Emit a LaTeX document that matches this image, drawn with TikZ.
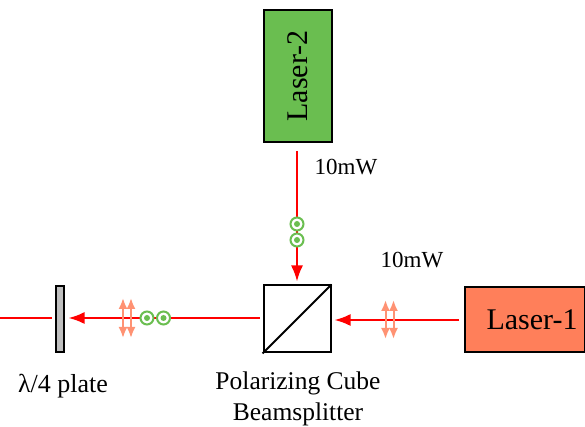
\documentclass[tikz,border=0pt]{standalone}
\usepackage{fontspec}
\setmainfont{Liberation Serif}
\usetikzlibrary{arrows.meta,positioning}
\definecolor{lasergreen}{RGB}{106,190,80}
\definecolor{lasersalmon}{RGB}{255,127,90}
\tikzset{
    laserbox/.style={draw,line width=2pt,minimum width=68pt,minimum height=132pt,inner sep=0pt},
    beam/.style={red,line width=2pt},
    beamtip/.style={beam,-{Latex[length=16pt,width=12pt]}},
    polarrow/.style={lasersalmon!85,line width=2pt,{Latex[length=11pt,width=9pt]}-{Latex[length=11pt,width=9pt]}},
    polring/.style={circle,draw=lasergreen,fill=white,line width=2pt,minimum size=13pt,inner sep=0pt},
    poldot/.style={circle,fill=lasergreen,minimum size=6pt,inner sep=0pt}
}
\begin{document}
\begin{tikzpicture}[x=1pt,y=1pt]
    \useasboundingbox (0,0) rectangle (585,427);

    \node[laserbox,fill=lasergreen] (laser2) at (298,351) {\rotatebox{90}{\fontsize{30}{30}\selectfont Laser-2}};
    \node[laserbox,fill=lasersalmon,minimum width=120pt,minimum height=65pt] (laser1) at (525,107.5) {\hspace*{14pt}\fontsize{30}{30}\selectfont Laser-1};
    \node[draw,line width=2pt,minimum size=67pt,inner sep=0pt] (cube) at (297,108) {};
    \node[draw,fill=black!25,line width=2pt,minimum width=8pt,minimum height=66pt,inner sep=0pt] (plate) at (59.5,108) {};
    \draw[line width=2pt] (cube.south west)--(cube.north east);

    \coordinate (leftend) at (0,109);
    \coordinate (cubeleft) at (cube.west |- 0,109);
    \coordinate (plateright) at (plate.east |- 0,109);
    \coordinate (plateleft) at (plate.west |- 0,109);
    \coordinate (laserleft) at (laser1.west |- 0,107);
    \coordinate (cuberight) at (cube.east |- 0,107);

    \draw[beamtip,shorten <=8pt,shorten >=3pt] (cube.north |- laser2.south) -- (cube.north);
    \draw[beamtip,shorten <=5pt,shorten >=3pt] (laserleft) -- (cuberight);
    \draw[beamtip,shorten <=3pt,shorten >=4pt] (cubeleft) -- (plateright);
    \draw[beam,shorten <=3pt] (plateleft) -- (leftend);

    \foreach \x/\ytop/\ybot/\name in {123/129/89/a,131/129/89/b,385.5/127/88/c,393.5/127/88/d}
    {
        \coordinate (pol\name top) at (\x,\ytop);
        \coordinate (pol\name bot) at (\x,\ybot);
        \draw[polarrow] (pol\name top) -- (pol\name bot);
    }

    \foreach \x/\y/\name in {297/203/v1,297/187/v2,147/109/h1,163.5/109/h2}
    {
        \node[polring] (ring\name) at (\x,\y) {};
        \node[poldot] (dot\name) at (\x,\y) {};
    }

    \node[font=\fontsize{23}{23}\selectfont] (power2) at (346,260) {10mW};
    \node[font=\fontsize{23}{23}\selectfont] (power1) at (412,167) {10mW};
    \node[font=\fontsize{26}{26}\selectfont] (platelabel) at (63,41) {λ/4 plate};
    \node[font=\fontsize{25.5}{31}\selectfont,align=center] (cubelabel) at (298,28.5) {Polarizing Cube\\Beamsplitter};
\end{tikzpicture}
\end{document}
